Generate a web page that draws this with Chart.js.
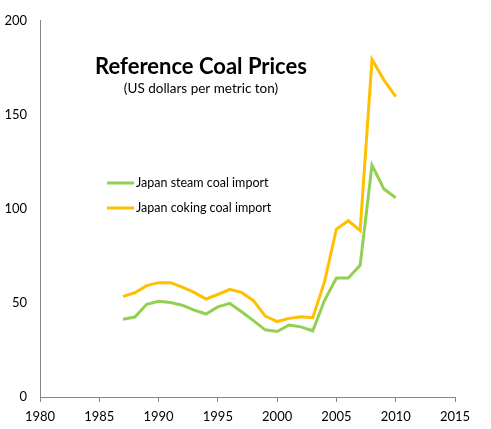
<!DOCTYPE html>
<html>
<head>
<meta charset="utf-8">
<script src="https://cdn.jsdelivr.net/npm/chart.js@4"></script>
<style>
  html, body { margin: 0; padding: 0; background: #fff; }
  #wrap { width: 491px; height: 429px; }
</style>
</head>
<body>
<div id="wrap"><canvas id="coalChart" width="491" height="429"></canvas></div>
<script>
// values, US$ per metric ton
var years = [1987, 1988, 1989, 1990, 1991, 1992, 1993, 1994, 1995, 1996, 1997, 1998,
             1999, 2000, 2001, 2002, 2003, 2004, 2005, 2006, 2007, 2008, 2009, 2010];
var steamCoal = [41.3, 42.5, 49.3, 50.9, 50.2, 48.8, 46.2, 44.1, 47.9, 49.8, 45.3, 40.6,
                 35.7, 34.8, 38.3, 37.3, 35.2, 51.4, 63.2, 63.2, 70.0, 123.3, 110.6, 105.9];
var cokingCoal = [53.5, 55.4, 59.2, 60.8, 60.8, 58.4, 55.6, 52.1, 54.5, 57.2, 55.6, 51.2,
                  43.0, 40.1, 41.8, 42.7, 42.2, 61.3, 89.3, 93.7, 88.5, 179.4, 168.6, 159.7];
var seriesNames = ['Japan steam coal import', 'Japan coking coal import'];
var seriesColors = ['#92D050', '#FFC000'];
var chartTitle = 'Reference Coal Prices';
var chartSubtitle = '(US dollars per metric ton)';

var FONT = 'Lato, "Liberation Sans", sans-serif';

function toPoints(vals){
    var pts = [];
    for(var i = 0; i < years.length; i++){
        pts.push({x: years[i], y: vals[i]});
    }
    return pts;
}

// title + legend sit inside the plot, Excel style
var overlayPlugin = {
    id: 'overlay',
    afterDraw: function(chart){
        var ctx = chart.ctx;
        ctx.save();
        ctx.fillStyle = '#000';
        ctx.textAlign = 'center';
        ctx.textBaseline = 'middle';
        ctx.font = 'bold 22px ' + FONT;
        ctx.fillText(chartTitle, 201, 67);
        ctx.font = '13.5px ' + FONT;
        ctx.fillText(chartSubtitle, 201, 89);

        ctx.textAlign = 'left';
        ctx.font = '12.5px ' + FONT;
        var rows = [183, 208];
        chart.data.datasets.forEach(function(ds, i){
            ctx.strokeStyle = ds.borderColor;
            ctx.lineWidth = 3;
            ctx.beginPath();
            ctx.moveTo(107, rows[i]);
            ctx.lineTo(134, rows[i]);
            ctx.stroke();
            ctx.fillStyle = '#000';
            ctx.fillText(ds.label, 136, rows[i]);
        });
        ctx.restore();
    }
};

new Chart(document.getElementById('coalChart'), {
    type: 'line',
    data: {
        datasets: [
            {label: seriesNames[0], data: toPoints(steamCoal), borderColor: seriesColors[0]},
            {label: seriesNames[1], data: toPoints(cokingCoal), borderColor: seriesColors[1]}
        ]
    },
    options: {
        responsive: false,
        animation: false,
        devicePixelRatio: 1,
        layout: {padding: {top: 13, right: 36, left: 0, bottom: 0}},
        elements: {
            line: {borderWidth: 3, tension: 0, fill: false},
            point: {radius: 0, hoverRadius: 0}
        },
        plugins: {legend: {display: false}, title: {display: false}, tooltip: {enabled: false}},
        scales: {
            x: {
                type: 'linear',
                min: 1980,
                max: 2015,
                afterFit: function(s){ s.height = 32; },
                ticks: {stepSize: 5, color: '#000', padding: 7, font: {family: FONT, size: 13},
                        callback: function(v){ return String(v); }},
                grid: {drawOnChartArea: false, drawTicks: true, tickLength: 5, color: '#868686'},
                border: {display: true, color: '#868686', width: 1}
            },
            y: {
                min: 0,
                max: 200,
                afterFit: function(s){ s.width = 40; },
                ticks: {stepSize: 50, color: '#000', padding: 13, font: {family: FONT, size: 13}},
                grid: {display: false, drawTicks: false},
                border: {display: true, color: '#868686', width: 1}
            }
        }
    },
    plugins: [overlayPlugin]
});
</script>
</body>
</html>
